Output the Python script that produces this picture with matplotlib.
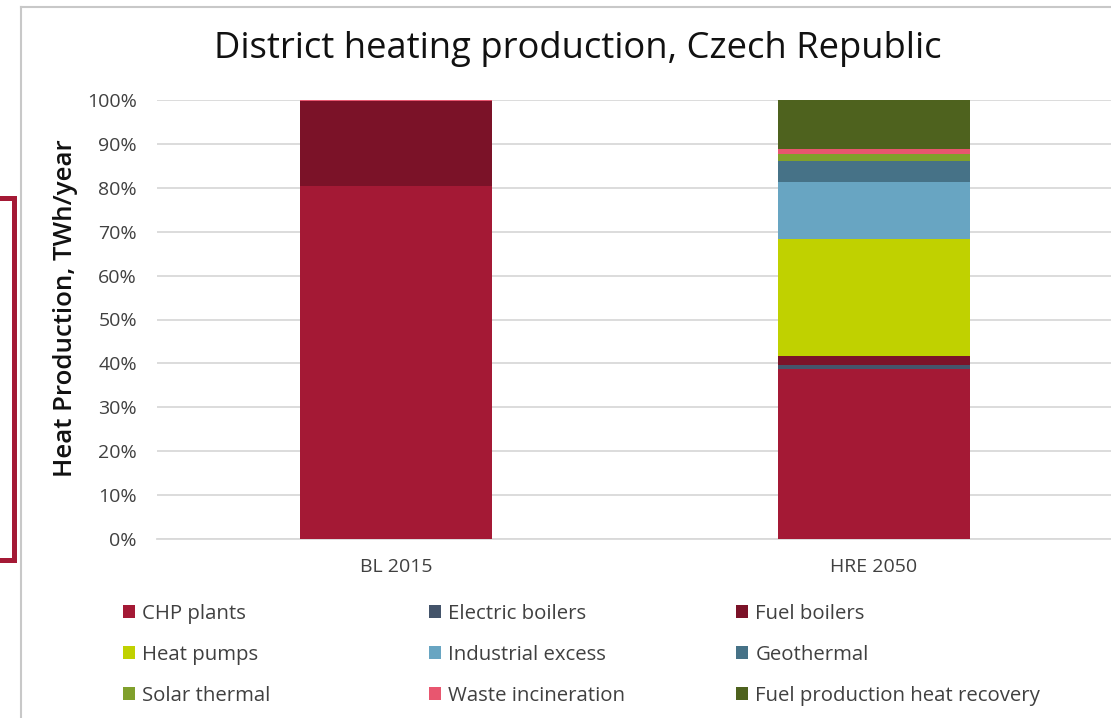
import matplotlib
matplotlib.use("Agg")
import matplotlib.pyplot as plt
from matplotlib.patches import Patch
from matplotlib.lines import Line2D
import numpy as np

plt.rcParams['font.family'] = ['Open Sans', 'DejaVu Sans']

categories = ["BL 2015", "HRE 2050"]
series_names = ["CHP plants", "Electric boilers", "Fuel boilers", "Heat pumps",
                "Industrial excess", "Geothermal", "Solar thermal",
                "Waste incineration", "Fuel production heat recovery"]
chp_plants = [80.3, 38.7]
electric_boilers = [0.0, 1.0]
fuel_boilers = [19.5, 1.9]
heat_pumps = [0.0, 26.8]
industrial_excess = [0.0, 13.0]
geothermal = [0.0, 4.6]
solar_thermal = [0.0, 1.8]
waste_incineration = [0.2, 1.0]
fuel_prod_heat_recovery = [0.0, 11.2]
yticks = [0, 10, 20, 30, 40, 50, 60, 70, 80, 90, 100]

colors = ["#A41935", "#44546A", "#7B1228", "#C0D100", "#68A5C2",
          "#467287", "#80A02C", "#E8566F", "#4E621E"]

values = [chp_plants, electric_boilers, fuel_boilers, heat_pumps, industrial_excess,
          geothermal, solar_thermal, waste_incineration, fuel_prod_heat_recovery]

W, H = 1111, 718
fig = plt.figure(figsize=(W / 100, H / 100), dpi=100)
ax = fig.add_axes([157 / W, (H - 539) / H, 956 / W, 439 / H])

x = np.arange(len(categories))
bottom = np.zeros(len(categories))
for name, vals, c in zip(series_names, values, colors):
    v = np.array(vals, dtype=float)
    ax.bar(x, v, width=0.4, bottom=bottom, color=c, label=name, zorder=3, linewidth=0)
    bottom += v

ax.set_xlim(-0.5, 1.5)
ax.set_ylim(0, 100)
ax.set_yticks(yticks)
ax.set_yticklabels([f"{t}%" for t in yticks])
ax.set_xticks(x)
ax.set_xticklabels(categories)
ax.tick_params(axis='both', length=0, labelsize=14, colors="#404040")
ax.tick_params(axis='y', pad=14.4)
ax.tick_params(axis='x', pad=14)
ax.grid(axis='y', color="#D9D9D9", linewidth=1.3, zorder=0)
for s in ["top", "right", "left"]:
    ax.spines[s].set_visible(False)
ax.spines["bottom"].set_color("#D9D9D9")
ax.spines["bottom"].set_linewidth(1.3)

fig.text(578 / W, 1 - 49 / H, "District heating production, Czech Republic",
         ha="center", va="center", fontsize=26.2, color="#111111")
fig.text(66 / W, 1 - 308 / H, "Heat Production, TWh/year", rotation=90,
         ha="center", va="center", fontsize=18.6, fontweight="semibold", color="#111111")

# legend: three columns, row-major order
col_x = [123, 429, 736]
for ci in range(3):
    idx = [ci, ci + 3, ci + 6]
    handles = [Patch(facecolor=colors[i], edgecolor="none") for i in idx]
    labels = [series_names[i] for i in idx]
    fig.legend(handles, labels, loc="upper left",
               bbox_to_anchor=(col_x[ci] / W, 1 - 604 / H),
               frameon=False, fontsize=14.7, handlelength=0.6, handleheight=0.6,
               handletextpad=0.35, labelspacing=1.02, borderpad=0, borderaxespad=0,
               labelcolor="#404040")

# chart frame
fig.add_artist(Line2D([21 / W, 21 / W], [0, 1 - 7 / H], color="#C8C8C8", lw=1.5))
fig.add_artist(Line2D([21 / W, 1], [1 - 7 / H, 1 - 7 / H], color="#C8C8C8", lw=1.5))
# red bracket
fig.add_artist(Line2D([0, 14 / W, 14 / W, 0],
                      [1 - 198 / H, 1 - 198 / H, 1 - 560 / H, 1 - 560 / H],
                      color="#A41935", lw=3.6, solid_joinstyle="miter"))

fig.savefig("out.png", dpi=100)
